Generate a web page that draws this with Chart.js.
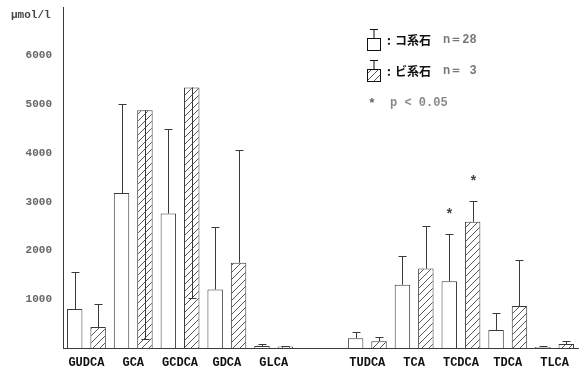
<!DOCTYPE html>
<html>
<head>
<meta charset="utf-8">
<script src="https://cdn.jsdelivr.net/npm/chart.js@4.4.0/dist/chart.umd.min.js"></script>
<style>
  html, body { margin: 0; padding: 0; background: #fff; }
  #wrap { width: 587px; height: 367px; position: relative; }
</style>
</head>
<body>
<div id="wrap"><canvas id="bileChart" width="587" height="367"></canvas></div>
<script>
// bile acid categories ('' = gap between glyco- and tauro- groups)
let categories = ["GUDCA", "GCA", "GCDCA", "GDCA", "GLCA", "", "TUDCA", "TCA", "TCDCA", "TDCA", "TLCA"];

// コ系石 (n=28) mean and SD
let koMean = [800, 3180, 2760, 1200, 40, null, 200, 1300, 1370, 370, 20];
let koSD = [750, 1820, 1740, 1290, 50, null, 130, 580, 980, 340, 20];

// ビ系石 (n=3) mean and SD
let biMean = [430, 4880, 5350, 1750, 30, null, 140, 1630, 2590, 860, 80];
let biSD = [470, 4700, 4330, 2310, 10, null, 80, 880, 430, 940, 60];
let biDown = [false, true, true, false, false, false, false, false, false, false, false];

// p < 0.05 marks
let koSig = [false, false, false, false, false, false, false, false, true, false, false];
let biSig = [false, false, false, false, false, false, false, false, true, false, false];

let yTicks = [1000, 2000, 3000, 4000, 5000, 6000];

const lineColor = "#3a3a3a";
const monoFont = "'Liberation Mono', 'DejaVu Sans Mono', monospace";
const jpFont = "'Noto Sans CJK JP', sans-serif";

function makeHatch() {
  let c = document.createElement("canvas");
  c.width = 7;
  c.height = 7;
  let g = c.getContext("2d");
  g.fillStyle = "#fff";
  g.fillRect(0, 0, 7, 7);
  g.strokeStyle = "#555";
  g.lineWidth = 1;
  g.beginPath();
  g.moveTo(-1, 8); g.lineTo(8, -1);
  g.moveTo(-1, 1); g.lineTo(1, -1);
  g.moveTo(6, 8); g.lineTo(8, 6);
  g.stroke();
  return g.createPattern(c, "repeat");
}
let hatch = makeHatch();

// error bars, asterisks and legend
const extras = {
  id: "extras",
  afterDatasetsDraw(chart) {
    const ctx = chart.ctx;
    const y = chart.scales.y;
    const sets = [
      { mean: koMean, sd: koSD, down: null, sig: koSig },
      { mean: biMean, sd: biSD, down: biDown, sig: biSig },
    ];
    ctx.save();
    ctx.strokeStyle = lineColor;
    ctx.lineWidth = 1;
    sets.forEach((s, di) => {
      let meta = chart.getDatasetMeta(di);
      meta.data.forEach((bar, i) => {
        if (s.mean[i] == null) return;
        let x = Math.round(bar.x) + 0.5;
        let down = s.down && s.down[i];
        let end = down ? s.mean[i] - s.sd[i] : s.mean[i] + s.sd[i];
        let yTop = y.getPixelForValue(s.mean[i]);
        let yEnd = Math.round(y.getPixelForValue(end)) + 0.5;
        ctx.beginPath();
        ctx.moveTo(x, yTop);
        ctx.lineTo(x, yEnd);
        ctx.moveTo(x - 4, yEnd);
        ctx.lineTo(x + 4, yEnd);
        ctx.stroke();
        if (s.sig[i]) {
          ctx.fillStyle = "#444";
          ctx.font = "bold 14px " + monoFont;
          ctx.textAlign = "center";
          ctx.textBaseline = "middle";
          ctx.fillText("*", x, yEnd - 19);
        }
      });
    });

    // y unit
    ctx.fillStyle = "#444";
    ctx.font = "bold 11px " + monoFont;
    ctx.textAlign = "left";
    ctx.textBaseline = "middle";
    ctx.fillText("μmol/l", 11, 15);

    // legend
    let lx = 367;
    let rows = [
      { y: 44, fill: "#fff", name: "コ系石", n: "n＝28" },
      { y: 75, fill: hatch, name: "ビ系石", n: "n＝ 3" },
    ];
    rows.forEach((r) => {
      ctx.fillStyle = r.fill;
      ctx.fillRect(lx, r.y - 6, 13, 12);
      ctx.strokeStyle = "#111";
      ctx.strokeRect(lx + 0.5, r.y - 6 + 0.5, 13, 12);
      ctx.beginPath();
      ctx.moveTo(lx + 7, r.y - 6);
      ctx.lineTo(lx + 7, r.y - 15);
      ctx.moveTo(lx + 3, r.y - 15 + 0.5);
      ctx.lineTo(lx + 11, r.y - 15 + 0.5);
      ctx.stroke();
      ctx.fillStyle = "#111";
      ctx.font = "bold 12px " + jpFont;
      ctx.textBaseline = "middle";
      ctx.fillText(":", 387, r.y - 4);
      ctx.fillText(r.name, 395, r.y - 4);
      ctx.fillStyle = "#777";
      ctx.font = "bold 12px " + monoFont;
      ctx.fillText(r.n, 443, r.y - 4);
    });
    ctx.fillStyle = "#666";
    ctx.font = "bold 13px " + monoFont;
    ctx.fillText("*", 368, 104);
    ctx.font = "bold 12px " + monoFont;
    ctx.fillStyle = "#888";
    ctx.fillText("p < 0.05", 390, 103);
    ctx.restore();
  },
};

new Chart(document.getElementById("bileChart"), {
  type: "bar",
  data: {
    labels: categories,
    datasets: [
      {
        label: "コ系石",
        data: koMean,
        backgroundColor: "#fff",
        borderColor: lineColor,
        borderWidth: 1,
      },
      {
        label: "ビ系石",
        data: biMean,
        backgroundColor: hatch,
        borderColor: lineColor,
        borderWidth: 1,
      },
    ],
  },
  options: {
    responsive: false,
    animation: false,
    layout: { padding: { top: 7, right: 9, left: 0, bottom: 0 } },
    categoryPercentage: 1.0,
    barPercentage: 0.66,
    plugins: { legend: { display: false }, tooltip: { enabled: false } },
    scales: {
      x: {
        grid: { display: false, drawTicks: false },
        border: { display: true, color: lineColor, width: 1 },
        ticks: {
          padding: 8,
          color: "#111",
          font: { family: monoFont, size: 12, weight: "bold" },
        },
        afterFit(s) { s.height = 19; },
      },
      y: {
        min: 0,
        max: 7000,
        grid: { display: false, drawTicks: false },
        border: { display: true, color: lineColor, width: 1 },
        afterBuildTicks(s) { s.ticks = yTicks.map((v) => ({ value: v })); },
        ticks: {
          padding: 11,
          color: "#666",
          font: { family: monoFont, size: 11, weight: "bold" },
          callback: (v) => String(v),
        },
        afterFit(s) {
          s.width = 63;
          s.paddingTop = 0;
          s.paddingBottom = 0;
        },
      },
    },
  },
  plugins: [extras],
});
</script>
</body>
</html>
